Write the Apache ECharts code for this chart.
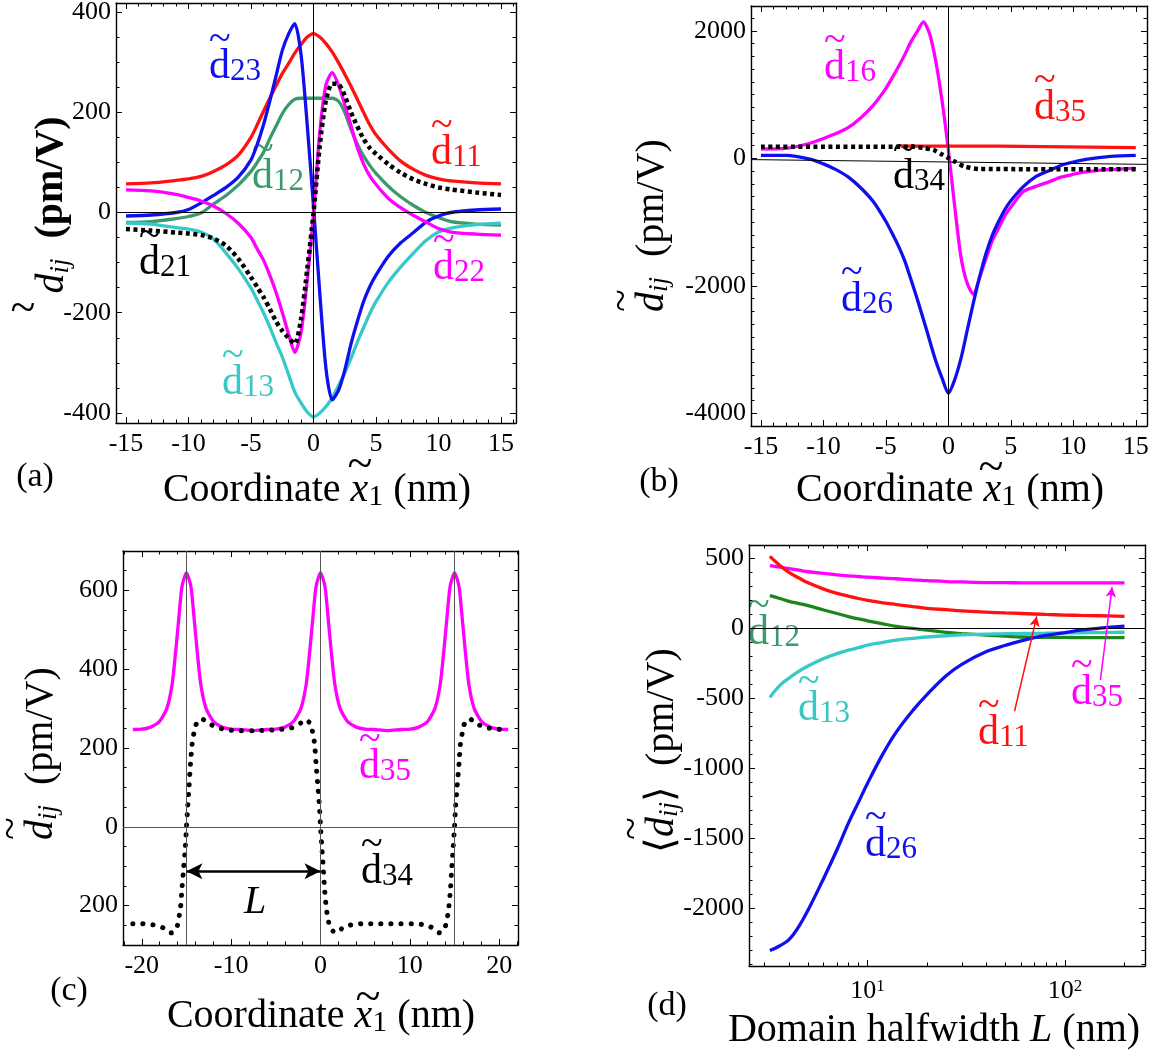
<!DOCTYPE html>
<html>
<head>
<meta charset="utf-8">
<script src="https://cdn.jsdelivr.net/npm/echarts@6/dist/echarts.min.js"></script>
<style>
html, body { margin: 0; padding: 0; background: #fff; }
#main { width: 1161px; height: 1061px; }
</style>
</head>
<body>
<div id="main"></div>
<script>
var SERIF = 'Liberation Serif';
var RED = '#ff1111', BLUE = '#1010ee', SEA = '#3a9a6c', GREEN = '#1c861c',
    MAG = '#ff00ff', CYAN = '#38c8c8', BLK = '#000';

// (a) coordinate x1 (nm) and d_ij (pm/V)
var xA = [-15, -13, -11, -10, -9, -8, -7, -6, -5, -4.5, -4, -3.5, -3, -2.5, -2, -1.5, -1, -0.5, 0, 0.5,
          1, 1.5, 2, 2.5, 3, 3.5, 4, 4.5, 5, 6, 7, 8, 9, 10, 11, 13, 15];
var d11A = [57, 59, 64, 67, 72, 82, 95, 115, 150, 175, 202, 228, 253, 277, 297, 318, 335, 350, 357, 350,
            337, 320, 299, 276, 252, 226, 200, 175, 155, 126, 102, 86, 74, 67, 63, 59, 57];
var d23A = [-7, -5, 0, 6, 19, 34, 50, 71, 105, 136, 175, 222, 272, 323, 356, 377, 316, 174, 12, -160,
            -312, -374, -355, -315, -262, -218, -178, -148, -125, -87, -60, -40, -19, -7, 0, 5, 7];
var d12A = [-20, -18, -12, -8, -1, 17, 34, 55, 82, 100, 120, 147, 172, 197, 215, 226, 228, 228, 228, 228,
            228, 228, 222, 200, 166, 137, 113, 94, 78, 52, 31, 14, 0, -10, -18, -23, -25];
var d22A = [45, 43, 36, 30, 23, 13, -2, -22, -50, -73, -95, -125, -159, -199, -242, -279, -240, -135, -4, 160,
            255, 279, 254, 215, 173, 130, 97, 73, 56, 28, 9, -6, -19, -32, -39, -43, -45];
var d21A = [-33, -36, -40, -42, -45, -52, -66, -93, -129, -149, -169, -192, -217, -236, -250, -262, -213, -113, -1, 133,
            225, 257, 256, 233, 200, 172, 147, 129, 117, 96, 79, 66, 57, 50, 46, 40, 35];
var d13A = [-21, -23, -30, -33, -39, -53, -81, -113, -151, -175, -200, -228, -259, -288, -323, -358, -380, -398, -408, -400,
            -387, -370, -345, -320, -291, -259, -230, -202, -178, -139, -108, -81, -56, -39, -31, -24, -21];

// (b)
var xB = xA;
var d16B = [146, 155, 240, 312, 388, 485, 638, 835, 1098, 1263, 1437, 1623, 1827, 1987, 2140, 1951, 1516, 894, 130, -743,
            -1540, -1957, -2130, -1869, -1579, -1300, -1104, -906, -767, -522, -440, -374, -296, -250, -214, -175, -157];
var d26B = [47, 47, -15, -87, -177, -294, -466, -683, -991, -1177, -1373, -1606, -1897, -2205, -2524, -2858, -3185, -3452, -3686, -3476,
            -3148, -2709, -2269, -1861, -1500, -1215, -1000, -811, -666, -445, -288, -200, -112, -58, -16, 30, 47];
var xB35 = [-3.8, 4, 4.1, 15];
var d35B = [192, 190, 168, 168];
var xB34 = [-15, -3, -2, -1.2, -0.5, 0, 0.5, 1.3, 2.5, 15];
var d34B = [183, 183, 165, 131, 60, 5, -50, -128, -167, -172];

// (c)
var xC35 = [-21, -20, -19, -18, -17.2, -16.6, -16.2, -15.85, -15.5, -15, -14.5, -14.15, -13.8, -13.4, -12.8, -12, -11, -10, -9, -7.5,
            -6, -5, -4, -3, -2.2, -1.6, -1.2, -0.85, -0.5, 0, 0.5, 0.85, 1.2, 1.6, 2.2, 3, 4, 5, 6, 7.5,
            9, 10, 11, 12, 12.8, 13.4, 13.8, 14.15, 14.5, 15, 15.5, 15.85, 16.2, 16.6, 17.2, 18, 19, 20, 21];
var d35C = [247, 248, 253, 268, 300, 362, 446, 531, 610, 645, 610, 531, 446, 362, 300, 268, 253, 248, 247, 244,
            247, 248, 253, 268, 300, 362, 446, 531, 610, 645, 610, 531, 446, 362, 300, 268, 253, 248, 247, 244,
            247, 248, 253, 268, 300, 362, 446, 531, 610, 645, 610, 531, 446, 362, 300, 268, 253, 248, 247];
var xC34 = [-21, -20, -19, -18, -17.5, -16.7, -16.1, -15.85, -15.65, -15.5, -15.3, -15.12, -15, -14.85, -14.7, -14.55, -14.37, -14.18, -13.9, -13.3,
            -12.4, -11.4, -10.3, -9, -7.5, -6, -4.5, -3.3, -2.5, -1.7, -1.1, -0.85, -0.65, -0.5, -0.3, -0.12, 0, 0.15, 0.3, 0.45,
            0.63, 0.82, 1.1, 1.7, 2.6, 3.6, 4.7, 6, 7.5, 9, 10.3, 11.4, 12.4, 13.3, 13.9, 14.18, 14.37, 14.55, 14.7, 14.85,
            15, 15.12, 15.3, 15.5, 15.65, 15.85, 16.1, 16.7, 17.5, 18.5, 19.6, 21];
var d34C = [-246, -246, -248, -252, -258, -269, -257, -232, -202, -156, -101, -51, 0, 53, 105, 160, 209, 236, 261, 274,
            261, 251, 246, 244, 244, 245, 247, 251, 258, 272, 261, 236, 209, 160, 105, 53, 0, -51, -101, -156,
            -202, -232, -257, -269, -255, -248, -246, -246, -246, -246, -246, -248, -255, -269, -257, -232, -202, -156, -101, -51,
            0, 53, 105, 160, 209, 236, 261, 274, 261, 252, 248, 246];

// (d) domain halfwidth L (nm), averaged d_ij
var LD = [3.2, 3.6, 4, 4.5, 5, 6, 7, 8, 9, 10, 12, 14, 17, 20, 25, 30, 40, 50, 60, 80, 100, 120, 150, 200];
var d11D = [515, 450, 401, 360, 326, 281, 250, 231, 214, 201, 183, 171, 156, 144, 134, 126, 117, 111, 107, 100, 96, 93, 91, 86];
var d35D = [448, 438, 428, 416, 405, 393, 383, 376, 371, 366, 360, 355, 347, 342, 335, 332, 328, 327, 326, 325, 325, 325, 325, 325];
var d12D = [234, 214, 194, 178, 163, 132, 107, 85, 68, 55, 33, 15, 0, -12, -28, -37, -48, -55, -61, -63, -64, -65, -66, -66];
var d13D = [-492, -406, -354, -305, -268, -215, -180, -155, -137, -119, -100, -83, -71, -61, -52, -46, -41, -37, -36, -34, -32, -31, -29, -27];
var d26D = [-2300, -2265, -2222, -2125, -2010, -1783, -1580, -1390, -1240, -1105, -892, -738, -583, -472, -337, -256, -165, -120, -88, -49, -29, -12, 2, 17];
var logMinor = [3, 4, 5, 6, 7, 8, 9, 20, 30, 40, 50, 60, 70, 80, 90, 200];

function pairs(xs, ys) {
	return xs.map(function (x, i) { return [x, ys[i]]; });
}

function stepFmt(step, abs) {
	return function (v) {
		var r = v / step;
		if (Math.abs(r - Math.round(r)) > 1e-6) return '';
		return '{v|' + String(abs ? Math.abs(v) : v) + '}';
	};
}

function axis(grid, min, max, split, minor, pos, fmt, margin) {
	var a = {
		type: 'value', gridIndex: grid, min: min, max: max, splitNumber: split, position: pos,
		axisLine: { onZero: false, lineStyle: { color: '#000', width: 1.4 } },
		axisTick: { inside: true, length: 6, lineStyle: { color: '#000', width: 1 } },
		minorTick: { show: true, splitNumber: minor, length: 3.5, lineStyle: { color: '#000', width: 1 } },
		splitLine: { show: false },
		axisLabel: { show: false }
	};
	if (fmt) {
		a.axisLabel = {
			show: true, margin: margin, formatter: fmt,
			rich: { v: { color: '#000', fontFamily: SERIF, fontSize: 26 } }
		};
	}
	return a;
}

var lgMin = 2.51, lgMax = 254;
function logAxis(pos, labels) {
	return {
		type: 'log', logBase: 10, gridIndex: 3, min: lgMin, max: lgMax, position: pos,
		axisLine: { onZero: false, lineStyle: { color: '#000', width: 1.4 } },
		axisTick: { inside: true, length: 6, lineStyle: { color: '#000', width: 1 } },
		minorTick: { show: false },
		splitLine: { show: false },
		axisLabel: labels ? {
			show: true, margin: 12,
			formatter: function (v) {
				var l = Math.log10(v);
				if (Math.abs(l - Math.round(l)) > 1e-6) return '';
				return '{b|10}{p|' + Math.round(l) + '}';
			},
			rich: {
				b: { color: '#000', fontFamily: SERIF, fontSize: 26 },
				p: { color: '#000', fontFamily: SERIF, fontSize: 17, verticalAlign: 'top', padding: [0, 0, 10, 0] }
			}
		} : { show: false }
	};
}
function logMinorAxis(pos) {
	return {
		type: 'value', gridIndex: 3, min: Math.log10(lgMin), max: Math.log10(lgMax), position: pos,
		axisLine: { show: false, onZero: false },
		axisTick: { show: true, inside: true, length: 3.5, lineStyle: { color: '#000', width: 1 },
			customValues: logMinor.map(function (v) { return Math.log10(v); }) },
		axisLabel: { show: false },
		splitLine: { show: false }
	};
}

function curve(k, data, color, extra) {
	var s = {
		type: 'line', xAxisIndex: 2 * k, yAxisIndex: 2 * k, data: data,
		showSymbol: false, symbol: 'none', smooth: 0.25, silent: true, animation: false, z: 3,
		lineStyle: { color: color, width: 3.3 }
	};
	if (extra) for (var p in extra) s[p] = extra[p];
	return s;
}
var squareDots = { color: '#000', width: 4.5, type: [4, 3.5] };
var roundDots = { color: '#000', width: 5, type: [0.1, 10], cap: 'round' };

function guides(k, data, color, extra) {
	var ml = {
		silent: true, symbol: 'none', animation: false,
		label: { show: false },
		lineStyle: { color: color, width: 1, type: 'solid' },
		data: data
	};
	if (extra) for (var p in extra) ml[p] = extra[p];
	return { type: 'line', xAxisIndex: 2 * k, yAxisIndex: 2 * k, data: [], z: 1, silent: true, markLine: ml };
}

// curve labels: tilde over d with subscript
function lab(x, y, sub, color) {
	return {
		type: 'text', x: x, y: y, silent: true,
		style: {
			text: '{t|~}\n{d|d}{s|' + sub + '}', fill: color, align: 'left', verticalAlign: 'top',
			rich: {
				t: { fill: color, fontFamily: SERIF, fontSize: 40, lineHeight: 14 },
				d: { fill: color, fontFamily: SERIF, fontSize: 42, lineHeight: 40 },
				s: { fill: color, fontFamily: SERIF, fontSize: 31, lineHeight: 20, verticalAlign: 'bottom' }
			}
		}
	};
}
function plain(x, y, text, size, extra) {
	var st = { text: text, fill: '#000', fontFamily: SERIF, fontSize: size, align: 'center', verticalAlign: 'middle' };
	if (extra) for (var p in extra) st[p] = extra[p];
	return { type: 'text', x: x, y: y, silent: true, style: st };
}
function xTitle(x, y) {
	return plain(x, y, '{n|Coordinate }{i|x}{s|1}{n| (nm)}', 40, {
		rich: {
			n: { fill: '#000', fontFamily: SERIF, fontSize: 40, lineHeight: 44 },
			i: { fill: '#000', fontFamily: SERIF, fontSize: 40, fontStyle: 'italic', lineHeight: 44 },
			s: { fill: '#000', fontFamily: SERIF, fontSize: 30, lineHeight: 26, verticalAlign: 'bottom' }
		}
	});
}
var yRich = {
	t: { fill: '#000', fontFamily: SERIF, fontSize: 42, lineHeight: 16 },
	n: { fill: '#000', fontFamily: SERIF, fontSize: 40, lineHeight: 42 },
	d: { fill: '#000', fontFamily: SERIF, fontSize: 40, fontStyle: 'italic', lineHeight: 42 },
	s: { fill: '#000', fontFamily: SERIF, fontSize: 27, fontStyle: 'italic', lineHeight: 22, verticalAlign: 'bottom' }
};
function yTitle(x, y, text, rich) {
	return {
		type: 'text', x: x, y: y, rotation: Math.PI / 2, silent: true,
		style: { text: text, fill: '#000', align: 'left', verticalAlign: 'bottom', rich: rich || yRich }
	};
}

var myChart = echarts.init(document.getElementById('main'), null, { renderer: 'canvas' });

var option = {
	backgroundColor: '#fff',
	animation: false,
	grid: [
		{ left: 116, top: 3, width: 400, height: 420, outerBoundsMode: 'none', containLabel: false },
		{ left: 751, top: 6, width: 396, height: 420, outerBoundsMode: 'none', containLabel: false },
		{ left: 123, top: 551, width: 395, height: 394, outerBoundsMode: 'none', containLabel: false },
		{ left: 749, top: 545, width: 396, height: 421, outerBoundsMode: 'none', containLabel: false }
	],
	xAxis: [
		axis(0, -15.8, 16.2, 6, 5, 'bottom', stepFmt(5), 8),
		axis(0, -15.8, 16.2, 6, 5, 'top'),
		axis(1, -15.8, 15.9, 6, 5, 'bottom', stepFmt(5), 8),
		axis(1, -15.8, 15.9, 6, 5, 'top'),
		axis(2, -22.1, 22.1, 4, 5, 'bottom', stepFmt(10), 8),
		axis(2, -22.1, 22.1, 4, 5, 'top'),
		logAxis('bottom', true),
		logAxis('top', false),
		logMinorAxis('bottom'),
		logMinorAxis('top')
	],
	yAxis: [
		axis(0, -420, 418, 4, 4, 'left', stepFmt(200), 5),
		axis(0, -420, 418, 4, 4, 'right'),
		axis(1, -4200, 2390, 3, 10, 'left', stepFmt(2000), 5),
		axis(1, -4200, 2390, 3, 10, 'right'),
		axis(2, -300, 700, 5, 4, 'left', stepFmt(200, true), 5),
		axis(2, -300, 700, 5, 4, 'right'),
		axis(3, -2410, 596, 6, 5, 'left', stepFmt(500), 5),
		axis(3, -2410, 596, 6, 5, 'right')
	],
	series: [
		// (a)
		guides(0, [{ xAxis: 0 }, { yAxis: 0 }], '#000'),
		curve(0, pairs(xA, d11A), RED),
		curve(0, pairs(xA, d12A), SEA),
		curve(0, pairs(xA, d13A), CYAN),
		curve(0, pairs(xA, d23A), BLUE),
		curve(0, pairs(xA, d22A), MAG),
		curve(0, pairs(xA, d21A), BLK, { lineStyle: squareDots, z: 4 }),
		// (b)
		guides(1, [[{ coord: [-15.8, -20] }, { coord: [15.9, -95] }], { xAxis: 0 }], '#000'),
		curve(1, pairs(xB, d16B), MAG),
		curve(1, pairs(xB, d26B), BLUE),
		curve(1, pairs(xB35, d35B), RED, { smooth: false }),
		curve(1, pairs(xB34, d34B), BLK, { lineStyle: squareDots, z: 4 }),
		// (c)
		guides(2, [{ xAxis: -15 }, { xAxis: 0 }, { xAxis: 15 }, { yAxis: 0 }], '#555'),
		guides(2, [[{ coord: [-15, -113] }, { coord: [0, -113] }]], '#000',
			{ symbol: ['arrow', 'arrow'], symbolSize: [12, 16], lineStyle: { color: '#000', width: 2.5, type: 'solid' } }),
		curve(2, pairs(xC35, d35C), MAG, { smooth: 0.2 }),
		curve(2, pairs(xC34, d34C), BLK, { lineStyle: roundDots, z: 4, smooth: 0.2 }),
		// (d)
		guides(3, [{ yAxis: 0 }], '#000'),
		curve(3, pairs(LD, d35D), MAG, { smooth: 0.4 }),
		curve(3, pairs(LD, d11D), RED, { smooth: 0.4 }),
		curve(3, pairs(LD, d12D), GREEN, { smooth: 0.4 }),
		curve(3, pairs(LD, d13D), CYAN, { smooth: 0.4 }),
		curve(3, pairs(LD, d26D), BLUE, { smooth: 0.4 }),
		guides(3, [[{ coord: [55.5, -591] }, { coord: [71.9, 86] }]], RED,
			{ symbol: ['none', 'arrow'], symbolSize: [8, 10], lineStyle: { color: RED, width: 1.5, type: 'solid' } }),
		guides(3, [[{ coord: [151, -369] }, { coord: [173, 295] }]], MAG,
			{ symbol: ['none', 'arrow'], symbolSize: [8, 10], lineStyle: { color: MAG, width: 1.5, type: 'solid' } })
	],
	graphic: { elements: [
		// (a)
		lab(209, 33, '23', BLUE), lab(431, 119, '11', RED), lab(252, 143, '12', SEA),
		lab(139, 229, '21', BLK), lab(433, 234, '22', MAG), lab(222, 349, '13', CYAN),
		plain(35, 477, '(a)', 34), xTitle(317, 490), plain(360, 466, '~', 46),
		plain(23, 310, '~', 46),
		{
			type: 'text', x: 52, y: 205, rotation: Math.PI / 2, silent: true,
			style: {
				text: '{d|d}{s|ij}{n|  (pm/V)}', fill: '#000', align: 'center', verticalAlign: 'middle',
				rich: {
					d: { fill: '#000', fontFamily: SERIF, fontSize: 40, fontStyle: 'italic', lineHeight: 44 },
					s: { fill: '#000', fontFamily: SERIF, fontSize: 27, fontStyle: 'italic', lineHeight: 24, verticalAlign: 'bottom' },
					n: { fill: '#000', fontFamily: SERIF, fontSize: 40, fontWeight: 'bold', lineHeight: 44 }
				}
			}
		},
		// (b)
		lab(824, 34, '16', MAG), lab(1034, 74, '35', RED), lab(893, 143, '34', BLK), lab(841, 266, '26', BLUE),
		plain(659, 482, '(b)', 34), xTitle(950, 490), plain(991, 469, '~', 46),
		yTitle(673, 312, '{t|~}\n{d|d}{s|ij}{n|  (pm/V)}'),
		// (c)
		lab(359, 733, '35', MAG), lab(361, 838, '34', BLK),
		plain(255, 902, 'L', 40, { fontStyle: 'italic' }),
		plain(69, 991, '(c)', 34), xTitle(321, 1016), plain(368, 999, '~', 46),
		yTitle(62, 840, '{t|~}\n{d|d}{s|ij}{n|  (pm/V)}'),
		// (d)
		lab(748, 599, '12', SEA), lab(798, 675, '13', CYAN), lab(978, 699, '11', RED),
		lab(1071, 659, '35', MAG), lab(865, 811, '26', BLUE),
		plain(667, 1006, '(d)', 34),
		plain(934, 1030, '{n|Domain halfwidth }{i|L}{n| (nm)}', 40, {
			rich: {
				n: { fill: '#000', fontFamily: SERIF, fontSize: 40 },
				i: { fill: '#000', fontFamily: SERIF, fontSize: 40, fontStyle: 'italic' }
			}
		}),
		yTitle(683, 853, '{t|~}\n{n|\u27e8}{d|d}{s|ij}{n|\u27e9  (pm/V)}', {
			t: { fill: '#000', fontFamily: SERIF, fontSize: 42, lineHeight: 16, padding: [0, 0, 0, 13] },
			n: yRich.n, d: yRich.d, s: yRich.s
		})
	] }
};

myChart.setOption(option);
</script>
</body>
</html>
